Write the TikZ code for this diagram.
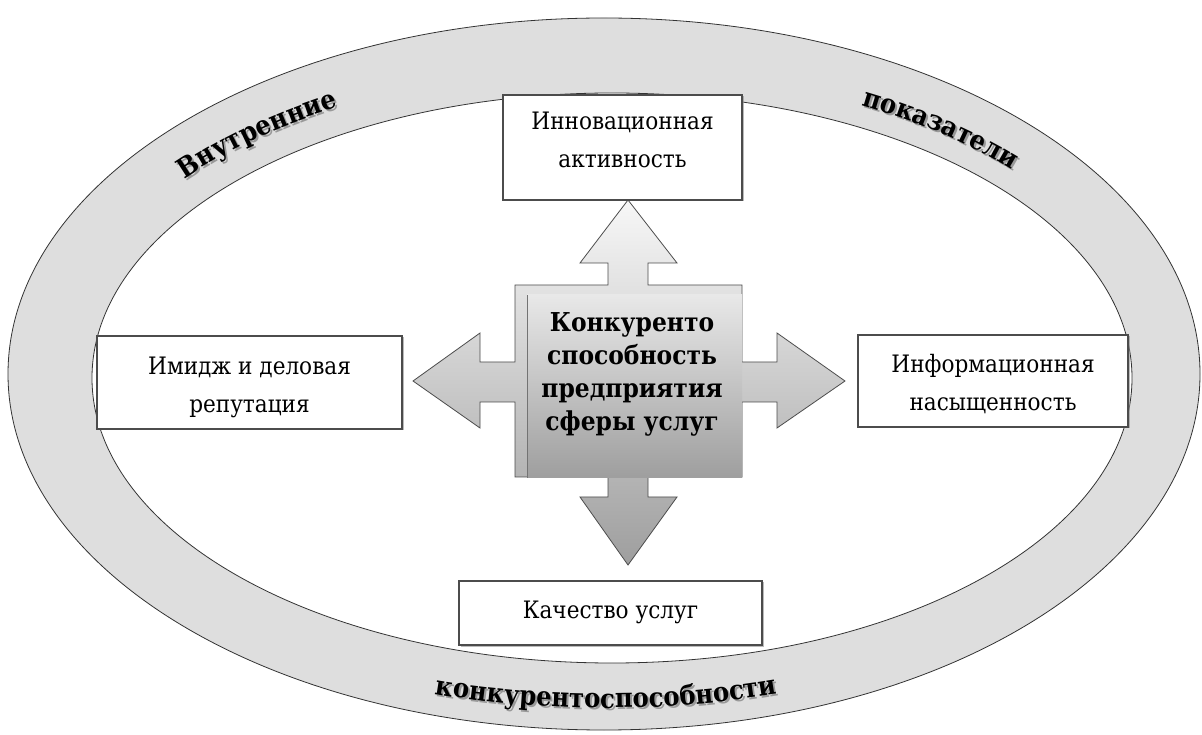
\documentclass[tikz,border=0pt]{standalone}
\usepackage{fontspec}
\IfFontExistsTF{DejaVu Serif Condensed}
  {\setmainfont{DejaVu Serif Condensed}}
  {\setmainfont{DejaVu Serif}}
\usetikzlibrary{decorations.text,shadows}
\begin{document}
\begin{tikzpicture}[x=1pt,y=1pt,
  ring/.style={draw=black!80, line width=0.8pt},
  infobox/.style={draw=black!70, line width=1.2pt, fill=white, align=center, inner sep=0pt,
    drop shadow={shadow xshift=1.5pt, shadow yshift=-1.5pt, fill=black!45, opacity=0.6}},
  boxtext/.style={font=\fontsize{24}{38}\selectfont},
  centertext/.style={align=center, font=\fontsize{26}{33}\selectfont\bfseries}
]
\useasboundingbox (0,0) rectangle (1202,734);
\fill[white] (0,0) rectangle (1202,734);

% ring
\draw[ring, fill=black!13] (604,360) ellipse[x radius=596, y radius=356];
\draw[ring, fill=white] (612,356) ellipse[x radius=520, y radius=285];

% curved labels (shadow then text)
\foreach \dx/\dy/\col in {2/-2/black!40, 0/0/black}{
  \begin{scope}[shift={(\dx,\dy)}]
  \path[decorate, decoration={text along path, text align=center, text color=\col,
     text={|\fontsize{27}{27}\selectfont\bfseries|Внутренние}}]
     ([shift={(151.5:548 and 308)}]606,358) arc[start angle=151.5, end angle=110.5, x radius=548, y radius=308];
  \path[decorate, decoration={text along path, text align=center, text color=\col,
     text={|\fontsize{27}{27}\selectfont\bfseries|показатели}}]
     ([shift={(72:550 and 306)}]606,358) arc[start angle=72, end angle=30, x radius=550, y radius=306];
  \path[decorate, decoration={text along path, text align=center, text color=\col,
     text={|\fontsize{27}{27}\selectfont\bfseries|конкурентоспособности}}]
     ([shift={(235:600 and 338)}]606,364) arc[start angle=235, end angle=305, x radius=600, y radius=338];
  \end{scope}
}

% central cross
\draw[draw=black!70, line width=0.8pt, top color=black!3, bottom color=black!38]
  (515,449) -- (608,449) -- (608,471) -- (580,471) -- (628,534) -- (677,471) -- (648,471)
  -- (648,449) -- (742,449) -- (742,372) -- (777,372) -- (777,401) -- (845,353) -- (777,306)
  -- (777,332) -- (742,332) -- (742,257) -- (648,257) -- (648,237) -- (677,237) -- (628,169)
  -- (580,237) -- (608,237) -- (608,257) -- (515,257) -- (515,332) -- (480,332) -- (480,306)
  -- (413,353) -- (480,401) -- (480,372) -- (515,372) -- cycle;
\shade[top color=black!9, bottom color=black!38] (527,256) rectangle (742,439);
\draw[black!55, line width=0.8pt] (527,256) -- (527,439);

\node[centertext] (core) at (632,360) {Конкуренто\\способность\\предприятия\\сферы услуг};

% boxes
\node[infobox, minimum width=239, minimum height=105] (innov) at (622.5,586.5) {};
\node[boxtext, align=center] (innovT) at (622.5,594) {\fontsize{24}{30}\selectfont Инновационная\\активность};
\node[infobox, minimum width=305, minimum height=93] (image) at (249.5,351.5) {};
\node[boxtext, align=center] (imageT) at (249.5,347) {Имидж и деловая\\репутация};
\node[infobox, minimum width=270, minimum height=92] (info) at (993,353) {};
\node[boxtext, align=center] (infoT) at (993,350) {Информационная\\насыщенность};
\node[infobox, minimum width=303, minimum height=64] (qual) at (610.5,121) {};
\node[boxtext] (qualT) at (610.5,122) {Качество услуг};
\end{tikzpicture}
\end{document}
